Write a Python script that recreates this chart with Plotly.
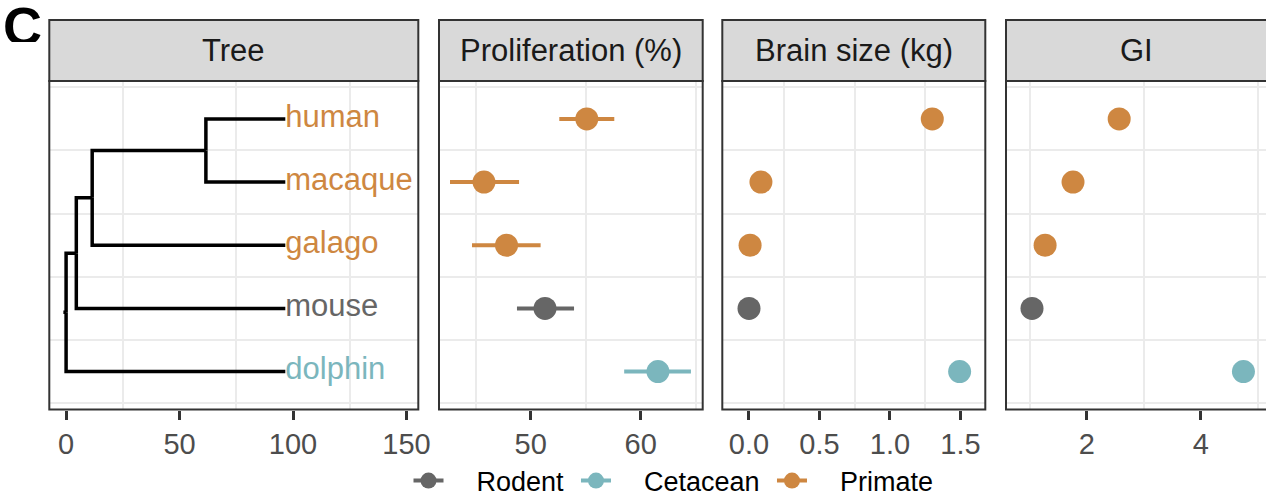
import plotly.graph_objects as go

W, H = 1266, 496

# ---------------- data ----------------
species = ["human", "macaque", "galago", "mouse", "dolphin"]
species_group = ["Primate", "Primate", "Primate", "Rodent", "Cetacean"]
row_pos = [5, 4, 3, 2, 1]

groups = ["Rodent", "Cetacean", "Primate"]
group_colors = {"Rodent": "#666666", "Cetacean": "#7BB6BD", "Primate": "#CE8741"}

# tree (branch positions on the tree axis)
tip_x = 96.6
node_x = {"root": 0.0, "A": 4.5, "B": 11.5, "C": 61.6}
tree_edges = [("root", "A"), ("root", "dolphin"), ("A", "B"), ("A", "mouse"),
              ("B", "C"), ("B", "galago"), ("C", "human"), ("C", "macaque")]
root_edge = 1.2

prolif_mean = [55.1, 45.75, 47.8, 51.3, 61.57]
prolif_low = [52.6, 42.66, 44.66, 48.75, 58.5]
prolif_high = [57.6, 48.94, 50.9, 53.94, 64.57]

brain_kg = [1.30, 0.085, 0.008, 0.0004, 1.494]
gi = [2.57, 1.76, 1.27, 1.04, 4.75]

panel_titles = ["Tree", "Proliferation (%)", "Brain size (kg)", "GI"]
x_ticks = [[0, 50, 100, 150], [50, 60], [0, 0.5, 1.0, 1.5], [2, 4]]
x_ticktext = [["0", "50", "100", "150"], ["50", "60"], ["0.0", "0.5", "1.0", "1.5"], ["2", "4"]]
x_minor = [[25, 75, 125], [45, 55, 65], [0.25, 0.75, 1.25], [1, 3, 5]]
x_ranges = [[-7.4, 155.2], [41.66, 65.64], [-0.189, 1.676], [0.584, 5.146]]

# ---------------- layout geometry (pixels) ----------------
panels_px = [(49.3, 418.3), (439.0, 702.7), (722.3, 985.3), (1006.0, 1266.0)]
panel_right_draw = [418.3, 702.7, 985.3, 1272.0]
panel_top, panel_bot, strip_top = 81.0, 409.5, 20.0
FONT = "Liberation Sans, Arial, Helvetica, sans-serif"
NB = "\u00a0"
TS = "\u2009"

def px_x(p):
    return p / W

def px_y(p):
    return 1 - p / H

# ---------------- tree layout ----------------
y_of = {s: r for s, r in zip(species, row_pos)}
children = {}
for p, c in tree_edges:
    children.setdefault(p, []).append(c)

def node_y(n):
    if n in y_of:
        return y_of[n]
    ys = [node_y(c) for c in children[n]]
    return sum(ys) / len(ys)

def nx(n):
    return node_x.get(n, tip_x)

tx, ty = [], []
for p, c in tree_edges:
    tx += [nx(p), nx(p), nx(c), None]
    ty += [node_y(p), node_y(c), node_y(c), None]
tx += [-root_edge, 0, None]
ty += [node_y("root"), node_y("root"), None]

fig = go.Figure()

fig.add_trace(go.Scatter(x=tx, y=ty, mode="lines", line=dict(color="black", width=3.5),
                         showlegend=False, hoverinfo="skip", xaxis="x", yaxis="y"))
fig.add_trace(go.Scatter(x=[tip_x] * len(species), y=row_pos, mode="text", text=species,
                         textposition="middle right",
                         textfont=dict(family=FONT, size=31,
                                       color=[group_colors[g] for g in species_group]),
                         showlegend=False, hoverinfo="skip", cliponaxis=False,
                         xaxis="x", yaxis="y"))

# legend entries
for g in groups:
    fig.add_trace(go.Scatter(x=[None], y=[None], mode="lines+markers",
                             name=NB * 3 + TS + g + NB,
                             legendgroup=g,
                             line=dict(color=group_colors[g], width=4),
                             marker=dict(color=group_colors[g], size=23),
                             xaxis="x2", yaxis="y2"))

for g in groups:
    idx = [i for i, sg in enumerate(species_group) if sg == g]
    col = group_colors[g]
    fig.add_trace(go.Scatter(
        x=[prolif_mean[i] for i in idx], y=[row_pos[i] for i in idx], mode="markers",
        marker=dict(color=col, size=23),
        error_x=dict(type="data", symmetric=False,
                     array=[prolif_high[i] - prolif_mean[i] for i in idx],
                     arrayminus=[prolif_mean[i] - prolif_low[i] for i in idx],
                     width=0, thickness=4, color=col),
        legendgroup=g, showlegend=False, xaxis="x2", yaxis="y2", cliponaxis=False))
    fig.add_trace(go.Scatter(
        x=[brain_kg[i] for i in idx], y=[row_pos[i] for i in idx], mode="markers",
        marker=dict(color=col, size=23), legendgroup=g, showlegend=False,
        xaxis="x3", yaxis="y3", cliponaxis=False))
    fig.add_trace(go.Scatter(
        x=[gi[i] for i in idx], y=[row_pos[i] for i in idx], mode="markers",
        marker=dict(color=col, size=23), legendgroup=g, showlegend=False,
        xaxis="x4", yaxis="y4", cliponaxis=False))

# panel tag "C" (its lower part is clipped, as in the source figure)
fig.add_trace(go.Scatter(x=[0.49], y=[0.24], mode="text", text=["<b>C</b>"],
                         textposition="middle center",
                         textfont=dict(family=FONT, size=54, color="black"),
                         showlegend=False, hoverinfo="skip", cliponaxis=True,
                         xaxis="x5", yaxis="y5"))

layout = dict(
    template="none",
    width=W, height=H, autosize=False,
    margin=dict(l=0, r=0, t=0, b=0, pad=0, autoexpand=False),
    paper_bgcolor="white", plot_bgcolor="white",
    font=dict(family=FONT, color="#4D4D4D"),
    showlegend=True,
    legend=dict(orientation="h", x=px_x(677), xanchor="center", y=px_y(481),
                yanchor="middle", font=dict(family=FONT, size=27, color="black"),
                itemsizing="trace", bgcolor="rgba(0,0,0,0)", borderwidth=0,
                traceorder="normal"),
)

ydom = [px_y(panel_bot), px_y(panel_top)]
for k in range(4):
    sfx = "" if k == 0 else str(k + 1)
    l, r = panels_px[k]
    layout["xaxis" + sfx] = dict(
        domain=[px_x(l), min(1.0, px_x(r))], range=x_ranges[k], anchor="y" + sfx,
        tickmode="array", tickvals=x_ticks[k], ticktext=x_ticktext[k],
        ticks="outside", ticklen=9, tickwidth=2.5, tickcolor="#333333",
        tickfont=dict(family=FONT, size=29, color="#4D4D4D"),
        showgrid=False, zeroline=False, showline=False, automargin=False,
        minor=dict(tickmode="array", tickvals=x_minor[k], showgrid=True,
                   gridcolor="#EBEBEB", gridwidth=2, ticks=""),
        fixedrange=True)
    layout["yaxis" + sfx] = dict(
        domain=ydom, range=[0.4, 5.6], anchor="x" + sfx,
        tickmode="array", tickvals=[0.5, 1.5, 2.5, 3.5, 4.5, 5.5],
        showticklabels=False, ticks="", showgrid=True, gridcolor="#EBEBEB",
        gridwidth=2, zeroline=False, showline=False, automargin=False,
        fixedrange=True)

layout["xaxis5"] = dict(domain=[0, px_x(46)], range=[0, 1], visible=False,
                        anchor="y5", automargin=False, fixedrange=True)
layout["yaxis5"] = dict(domain=[px_y(42), 1], range=[0, 1], visible=False,
                        anchor="x5", automargin=False, fixedrange=True)

shapes = []
annotations = []
for k in range(4):
    l, _ = panels_px[k]
    r = panel_right_draw[k]
    shapes.append(dict(type="rect", xref="paper", yref="paper",
                       x0=px_x(l), x1=px_x(r), y0=px_y(panel_bot), y1=px_y(panel_top),
                       line=dict(color="#333333", width=2), fillcolor="rgba(0,0,0,0)",
                       layer="above"))
    shapes.append(dict(type="rect", xref="paper", yref="paper",
                       x0=px_x(l), x1=px_x(r), y0=px_y(panel_top), y1=px_y(strip_top),
                       line=dict(color="#333333", width=2), fillcolor="#D9D9D9",
                       layer="above"))
    annotations.append(dict(text=panel_titles[k], xref="paper", yref="paper",
                            x=px_x((l + panels_px[k][1]) / 2), y=px_y((strip_top + panel_top) / 2),
                            xanchor="center", yanchor="middle", showarrow=False,
                            font=dict(family=FONT, size=31, color="#1A1A1A")))
layout["shapes"] = shapes
layout["annotations"] = annotations

fig.update_layout(**layout)
fig.write_html(
    "out.html",
    config={"displayModeBar": False, "responsive": False},
    post_script=("document.documentElement.style.margin='0px';"
                 "document.documentElement.style.overflow='hidden';"
                 "document.body.style.margin='0px';document.body.style.padding='0px';"
                 "document.body.style.overflow='hidden';"),
)
